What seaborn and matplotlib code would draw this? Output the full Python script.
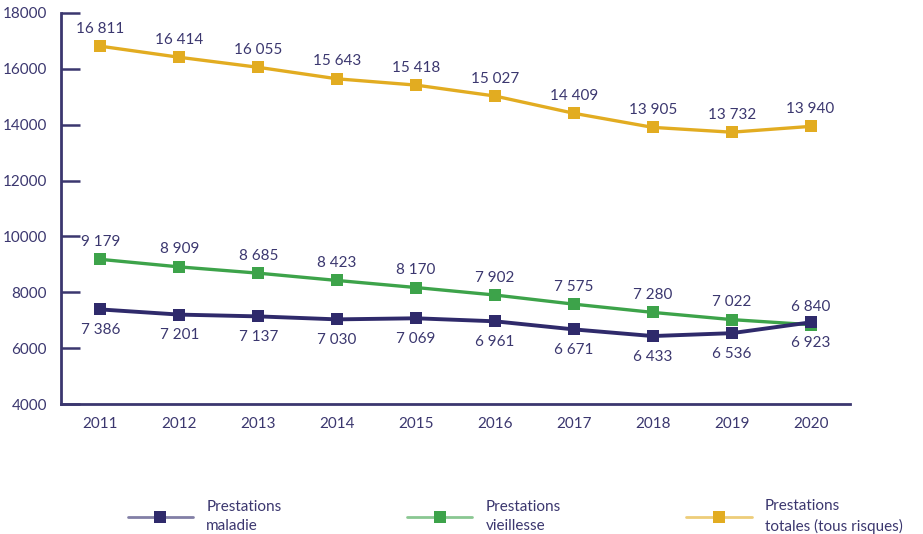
import pandas as pd
import numpy as np
import seaborn as sns
import matplotlib.pyplot as plt
from matplotlib.ticker import FixedLocator
from matplotlib.colors import to_rgb

# Data
years = [2011, 2012, 2013, 2014, 2015, 2016, 2017, 2018, 2019, 2020]
maladie = [7386, 7201, 7137, 7030, 7069, 6961, 6671, 6433, 6536, 6923]
vieillesse = [9179, 8909, 8685, 8423, 8170, 7902, 7575, 7280, 7022, 6840]
totales = [16811, 16414, 16055, 15643, 15418, 15027, 14409, 13905, 13732, 13940]

series_names = ['Prestations\nmaladie', 'Prestations\nvieillesse', 'Prestations\ntotales (tous risques)']
colors = ['#2f2a6b', '#3da34a', '#e2ac21']
text_color = '#3b376f'

df = pd.DataFrame({
    'idx': list(range(len(years))) * 3,
    'value': maladie + vieillesse + totales,
    'serie': [series_names[0]] * 10 + [series_names[1]] * 10 + [series_names[2]] * 10,
})

sns.set_style("white")
plt.rcParams['font.family'] = ['Lato', 'DejaVu Sans']

fig = plt.figure(figsize=(9.23, 5.34), dpi=100)
ax = fig.add_axes([61 / 923, 1 - 404 / 534, (850 - 61) / 923, (404 - 13) / 534])

sns.lineplot(data=df, x='idx', y='value', hue='serie', palette=colors,
             style='serie', markers=['s', 's', 's'], dashes=False,
             markersize=9, linewidth=2.4, markeredgewidth=0, ax=ax, legend=True)

# maladie drawn on top of the other series
for line, z in zip(ax.lines[:3], [4, 3, 2]):
    line.set_zorder(z)
ax.lines[0].set_linewidth(2.8)

# value labels: maladie below, others above
fmt = lambda v: f"{v:,}".replace(',', ' ')
for i, v in enumerate(maladie):
    ax.annotate(fmt(v), (i, v), xytext=(0, -10), textcoords='offset points',
                ha='center', va='top', fontsize=11, color=text_color)
for vals in (vieillesse, totales):
    for i, v in enumerate(vals):
        ax.annotate(fmt(v), (i, v), xytext=(0, 7.5), textcoords='offset points',
                    ha='center', va='bottom', fontsize=11, color=text_color)

ax.set_xlim(-0.5, 9.5)
ax.set_ylim(4000, 18000)
ax.set_xticks(range(len(years)))
ax.set_xticklabels([str(y) for y in years])
ax.xaxis.set_minor_locator(FixedLocator(np.arange(0.5, 9.6, 1)))
ax.set_yticks(range(4000, 18001, 2000))
ax.set_xlabel('')
ax.set_ylabel('')

ax.tick_params(axis='x', which='major', length=0, pad=9, labelsize=11, labelcolor=text_color)
ax.tick_params(axis='x', which='minor', direction='in', length=7, width=1.8, color=text_color)
ax.tick_params(axis='y', direction='in', length=14, width=1.8, color=text_color,
               pad=10, labelsize=11, labelcolor=text_color, left=True)

for s in ['top', 'right']:
    ax.spines[s].set_visible(False)
for s in ['left', 'bottom']:
    ax.spines[s].set_color(text_color)
    ax.spines[s].set_linewidth(2)

handles, labels = ax.get_legend_handles_labels()
ax.get_legend().remove()
leg = fig.legend(handles, labels, loc='center', bbox_to_anchor=(0.558, 0.033), ncol=3,
                 frameon=False, fontsize=11, handlelength=4.3, handletextpad=0.85,
                 columnspacing=8.2, labelcolor=text_color)
for t in leg.get_texts():
    t.set_linespacing(1.45)
for line, c in zip(leg.get_lines(), colors):
    line.set_alpha(None)
    line.set_linewidth(2)
    line.set_color(tuple(list(to_rgb(c)) + [0.6]))
    line.set_markerfacecolor(c)
    line.set_markeredgecolor(c)
    line.set_markersize(9)

fig.savefig('out.png', dpi=100)
